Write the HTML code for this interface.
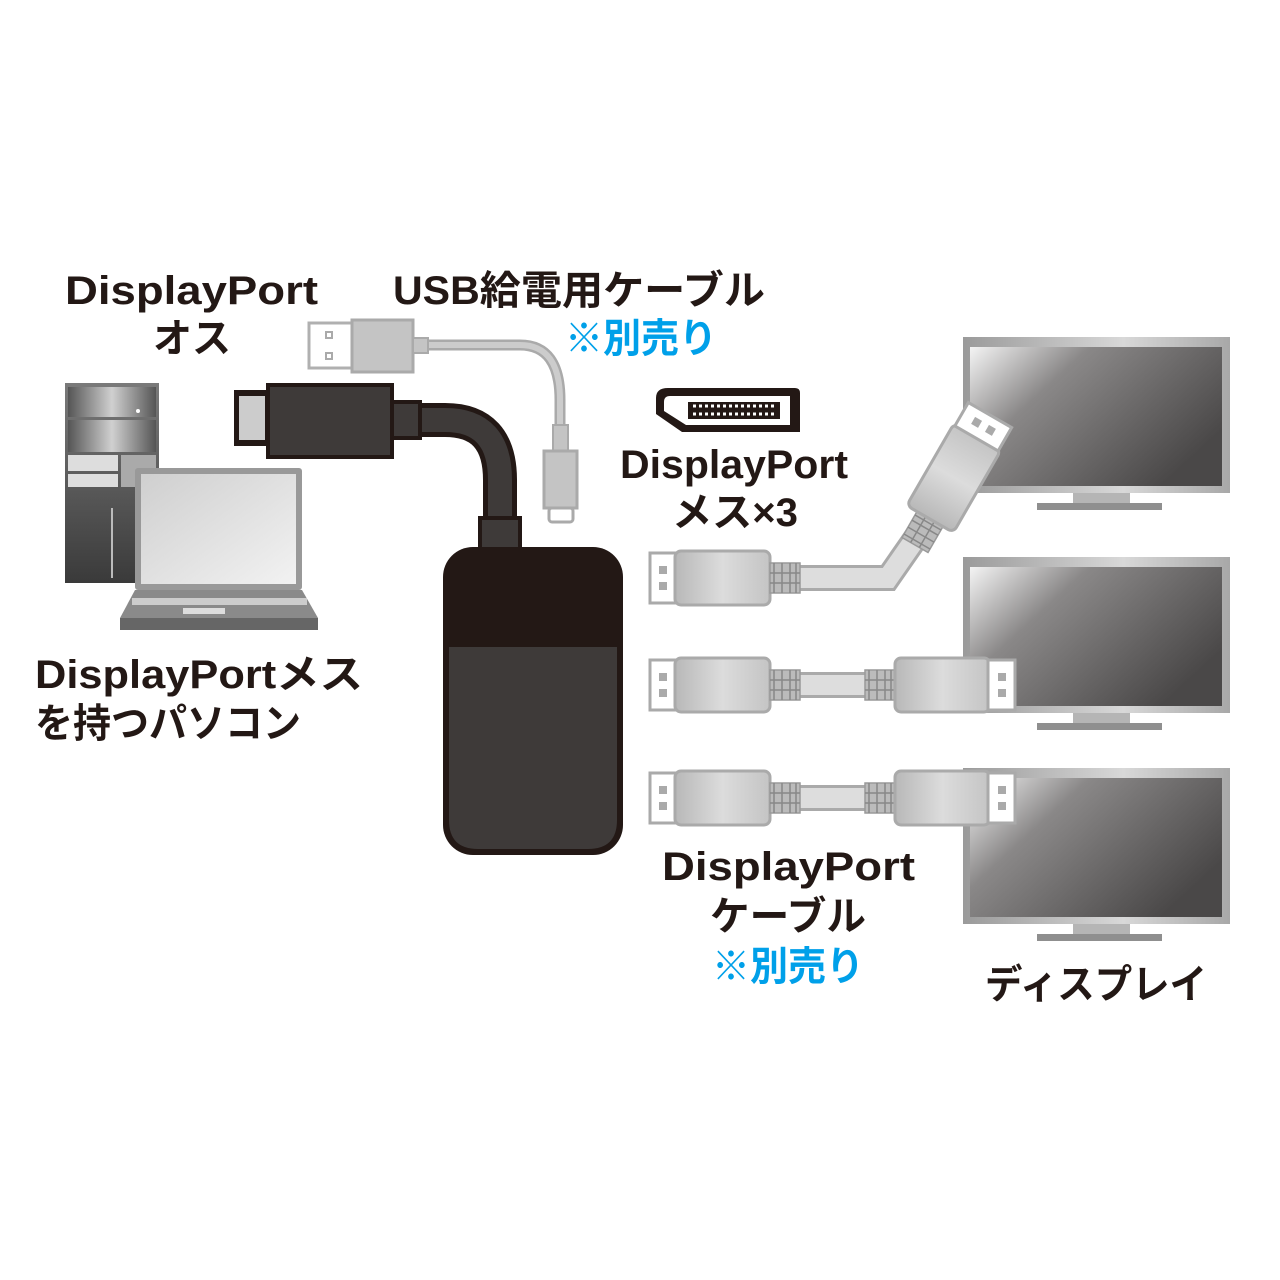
<!DOCTYPE html>
<html><head><meta charset="utf-8"><style>
html,body{margin:0;padding:0;background:#fff;}
svg{display:block}
text{font-family:"Liberation Sans","Noto Sans CJK JP",sans-serif;font-weight:bold;fill:#231815}
.b{fill:#00a0e9}
</style></head><body>
<svg width="1280" height="1280" viewBox="0 0 1280 1280" xmlns="http://www.w3.org/2000/svg">
<defs>
<linearGradient id="scr" x1="0" y1="0" x2="1" y2="0.6">
<stop offset="0" stop-color="#f4f4f4"/><stop offset="0.35" stop-color="#8a8888"/><stop offset="1" stop-color="#4a4848"/></linearGradient>
<linearGradient id="frm" x1="0" y1="0" x2="1" y2="0">
<stop offset="0" stop-color="#9a9a9a"/><stop offset="0.6" stop-color="#d8d8d8"/><stop offset="1" stop-color="#a8a8a8"/></linearGradient>
<linearGradient id="tow" x1="0" y1="0" x2="1" y2="0">
<stop offset="0" stop-color="#555"/><stop offset="0.5" stop-color="#d0d0d0"/><stop offset="1" stop-color="#555"/></linearGradient>
<linearGradient id="towb" x1="0" y1="0" x2="0" y2="1">
<stop offset="0" stop-color="#7a7a7a"/><stop offset="1" stop-color="#3a3a3a"/></linearGradient>
<linearGradient id="lap" x1="0" y1="0" x2="1" y2="1">
<stop offset="0" stop-color="#cfcfcf"/><stop offset="1" stop-color="#f2f2f2"/></linearGradient>
<linearGradient id="plg" x1="0" y1="0" x2="1" y2="0">
<stop offset="0" stop-color="#b8b8b8"/><stop offset="0.5" stop-color="#dcdcdc"/><stop offset="1" stop-color="#c4c4c4"/></linearGradient>
<g id="mon">
<rect x="0" y="0" width="267" height="156" fill="url(#frm)"/>
<rect x="7" y="10" width="252" height="139" fill="url(#scr)"/>
<rect x="110" y="156" width="57" height="10" fill="#b5b5b5"/>
<rect x="74" y="166" width="125" height="7" fill="#8f8f8f"/>
</g>
<g id="plugL">
<rect x="0" y="-25" width="27" height="50" fill="#fff" stroke="#aaa" stroke-width="3"/>
<rect x="9" y="-12" width="8" height="8" fill="#aaa"/><rect x="9" y="4" width="8" height="8" fill="#aaa"/>
<rect x="25" y="-27" width="95" height="54" rx="6" fill="url(#plg)" stroke="#aaa" stroke-width="3"/>
<rect x="120" y="-15" width="30" height="30" fill="#bbb" stroke="#999" stroke-width="1.5"/>
<path d="M124 -15v30M132 -15v30M140 -15v30M146 -15v30M120 -5h30M120 5h30" stroke="#888" stroke-width="1.5"/>
</g>
<g id="plugR">
<rect x="0" y="-15" width="30" height="30" fill="#bbb" stroke="#999" stroke-width="1.5"/>
<path d="M4 -15v30M12 -15v30M20 -15v30M26 -15v30M0 -5h30M0 5h30" stroke="#888" stroke-width="1.5"/>
<rect x="30" y="-27" width="95" height="54" rx="6" fill="url(#plg)" stroke="#aaa" stroke-width="3"/>
<rect x="123" y="-25" width="27" height="50" fill="#fff" stroke="#aaa" stroke-width="3"/>
<rect x="133" y="-12" width="8" height="8" fill="#aaa"/><rect x="133" y="4" width="8" height="8" fill="#aaa"/>
</g>
</defs>

<text x="65" y="304" font-size="40" textLength="253" lengthAdjust="spacingAndGlyphs">DisplayPort</text>
<text x="153" y="352" font-size="40" textLength="78" lengthAdjust="spacingAndGlyphs">オス</text>
<text x="393" y="304" font-size="40" textLength="372" lengthAdjust="spacingAndGlyphs">USB給電用ケーブル</text>
<text x="565" y="352" font-size="40" textLength="152" lengthAdjust="spacingAndGlyphs" class="b">※別売り</text>
<text x="620" y="478" font-size="40" textLength="228" lengthAdjust="spacingAndGlyphs">DisplayPort</text>
<text x="672" y="526" font-size="40" textLength="126" lengthAdjust="spacingAndGlyphs">メス×3</text>
<text x="35" y="688" font-size="40" textLength="328" lengthAdjust="spacingAndGlyphs">DisplayPortメス</text>
<text x="35" y="737" font-size="40" textLength="266" lengthAdjust="spacingAndGlyphs">を持つパソコン</text>
<text x="662" y="880" font-size="40" textLength="253" lengthAdjust="spacingAndGlyphs">DisplayPort</text>
<text x="710" y="930" font-size="40" textLength="156" lengthAdjust="spacingAndGlyphs">ケーブル</text>
<text x="712" y="980" font-size="40" textLength="152" lengthAdjust="spacingAndGlyphs" class="b">※別売り</text>
<text x="985" y="998" font-size="40" textLength="222" lengthAdjust="spacingAndGlyphs">ディスプレイ</text>

<rect x="65" y="383" width="94" height="200" fill="url(#towb)"/>
<rect x="68" y="387" width="88" height="30" fill="url(#tow)"/>
<rect x="68" y="420" width="88" height="32" fill="url(#tow)"/>
<circle cx="138" cy="411" r="2" fill="#fff"/>
<rect x="68" y="455" width="50" height="16" fill="#ddd"/>
<rect x="68" y="474" width="50" height="13" fill="#ddd"/>
<rect x="121" y="455" width="35" height="32" fill="#aaa"/>
<rect x="111" y="508" width="2" height="70" fill="#bbb"/>
<rect x="135" y="468" width="167" height="122" rx="3" fill="#999"/>
<rect x="141" y="474" width="155" height="110" fill="url(#lap)"/>
<polygon points="135,590 302,590 318,618 120,618" fill="#8a8a8a"/>
<rect x="132" y="598" width="175" height="7" fill="#ccc"/>
<rect x="183" y="608" width="42" height="6" fill="#ddd"/>
<rect x="120" y="618" width="198" height="12" fill="#666"/>

<path d="M428 345 H520 Q560 345 560 400 V428" fill="none" stroke="#aaa" stroke-width="11"/>
<path d="M428 345 H520 Q560 345 560 400 V428" fill="none" stroke="#ccc" stroke-width="6"/>
<rect x="309" y="323" width="43" height="45" fill="#fff" stroke="#b0b0b0" stroke-width="3"/>
<rect x="326" y="332" width="6" height="6" fill="none" stroke="#aaa" stroke-width="2"/>
<rect x="326" y="353" width="6" height="6" fill="none" stroke="#aaa" stroke-width="2"/>
<rect x="352" y="320" width="61" height="52" fill="#c4c4c4" stroke="#aaa" stroke-width="3"/>
<rect x="413" y="338" width="15" height="15" fill="#c4c4c4" stroke="#aaa" stroke-width="2"/>
<rect x="553" y="425" width="15" height="26" fill="#c4c4c4" stroke="#aaa" stroke-width="2"/>
<rect x="544" y="451" width="33" height="57" fill="#c4c4c4" stroke="#aaa" stroke-width="3"/>
<rect x="549" y="508" width="24" height="14" rx="3" fill="#fff" stroke="#aaa" stroke-width="3"/>

<path d="M418 420 H445 Q500 420 500 480 V525" fill="none" stroke="#231815" stroke-width="34"/>
<path d="M418 420 H445 Q500 420 500 480 V525" fill="none" stroke="#3e3a39" stroke-width="24"/>
<rect x="234" y="390" width="36" height="56" fill="#231815"/>
<rect x="239" y="396" width="26" height="44" fill="#ccc"/>
<rect x="268" y="385" width="124" height="72" fill="#3e3a39" stroke="#231815" stroke-width="4"/>
<rect x="392" y="402" width="28" height="36" fill="#3e3a39" stroke="#231815" stroke-width="4"/>
<rect x="480" y="518" width="40" height="32" fill="#3e3a39" stroke="#231815" stroke-width="4"/>

<rect x="443" y="547" width="180" height="308" rx="30" fill="#231815"/>
<path d="M449 647 H617 V820 Q617 849 588 849 H478 Q449 849 449 820 Z" fill="#3e3a39"/>

<path d="M668 388 H795 Q800 388 800 393 V432 H682 L656 414 V398 Q656 388 668 388Z" fill="#231815"/>
<path d="M670 396 H790 V425 H686 L664 411 V402 Q664 396 670 396Z" fill="#fff"/>
<rect x="688" y="402" width="92" height="17" fill="#231815"/>
<path d="M693 406 h84 M693 414 h84" stroke="#fff" stroke-width="3" stroke-dasharray="3 3"/>

<use href="#mon" x="963" y="337"/>
<use href="#mon" x="963" y="557"/>
<use href="#mon" x="963" y="768"/>

<path d="M800 578 H888 L920 532" fill="none" stroke="#aaa" stroke-width="26"/>
<path d="M800 578 H888 L920 532" fill="none" stroke="#ddd" stroke-width="20"/>
<use href="#plugL" x="650" y="578"/>
<g transform="translate(915 545) rotate(-60)">
<rect x="0" y="-15" width="30" height="30" fill="#bbb" stroke="#999" stroke-width="1.5"/>
<path d="M4 -15v30M12 -15v30M20 -15v30M26 -15v30M0 -5h30M0 5h30" stroke="#888" stroke-width="1.5"/>
<rect x="30" y="-27" width="95" height="54" rx="6" fill="url(#plg)" stroke="#aaa" stroke-width="3"/>
<rect x="123" y="-25" width="27" height="50" fill="#fff" stroke="#aaa" stroke-width="3"/>
<rect x="133" y="-12" width="8" height="8" fill="#aaa"/><rect x="133" y="4" width="8" height="8" fill="#aaa"/>
</g>

<path d="M800 685 H865" stroke="#aaa" stroke-width="26"/><path d="M800 685 H865" stroke="#ddd" stroke-width="20"/>
<use href="#plugL" x="650" y="685"/>
<use href="#plugR" x="865" y="685"/>

<path d="M800 798 H865" stroke="#aaa" stroke-width="26"/><path d="M800 798 H865" stroke="#ddd" stroke-width="20"/>
<use href="#plugL" x="650" y="798"/>
<use href="#plugR" x="865" y="798"/>
</svg>
</body></html>
